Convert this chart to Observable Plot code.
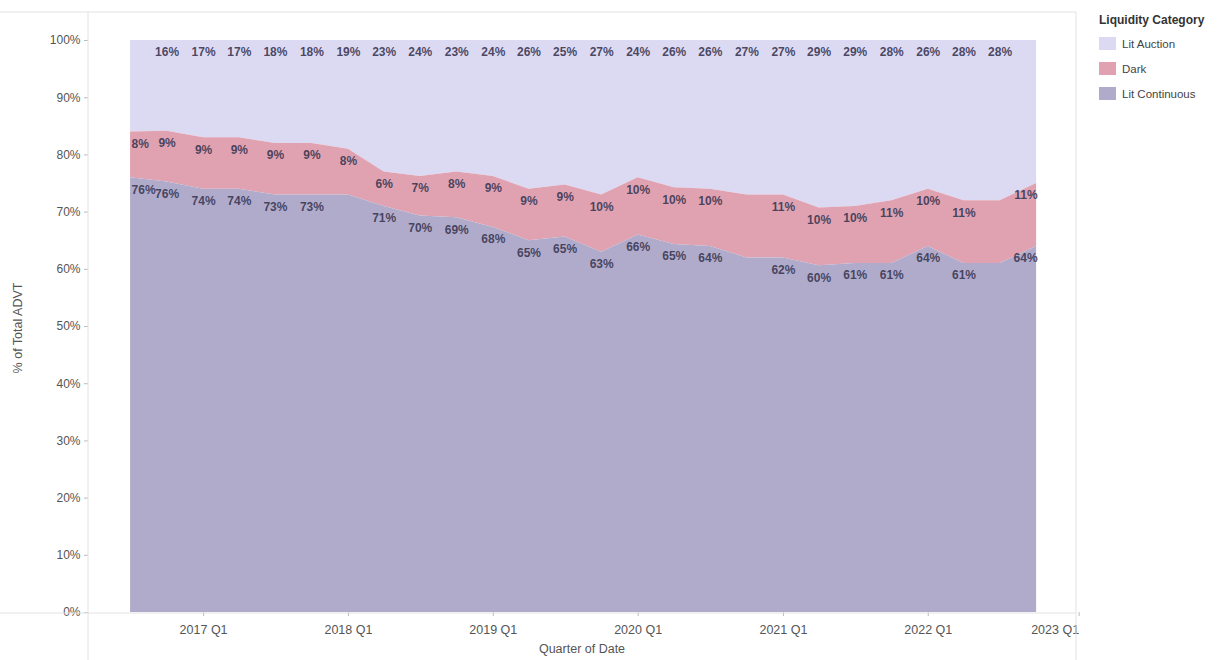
<!DOCTYPE html>
<html><head><meta charset="utf-8">
<script src="https://cdn.jsdelivr.net/npm/d3@7"></script>
<script src="https://cdn.jsdelivr.net/npm/@observablehq/plot@0.6"></script>
<style>
body{margin:0;background:#fff;font-family:"Liberation Sans",Arial,sans-serif}
#wrap{position:relative;width:1231px;height:660px;overflow:hidden}
#chart{position:absolute;left:0;top:0}
#legend{position:absolute;left:1099px;top:13px;font-size:11.5px;color:#444}
#legend .t{font-weight:bold;color:#333;margin-bottom:4px;font-size:12px}
#legend .it{display:flex;align-items:center;height:25px}
#legend .sw{width:17px;height:13px;margin-right:6px}
</style></head><body>
<div id="wrap"><div id="chart"></div><div id="legend"></div></div>
<script>
// Quarter start dates
const quarters = ["2016-07-01","2016-10-01","2017-01-01","2017-04-01","2017-07-01","2017-10-01",
  "2018-01-01","2018-04-01","2018-07-01","2018-10-01","2019-01-01","2019-04-01","2019-07-01","2019-10-01",
  "2020-01-01","2020-04-01","2020-07-01","2020-10-01","2021-01-01","2021-04-01","2021-07-01","2021-10-01",
  "2022-01-01","2022-04-01","2022-07-01","2022-10-01"];
const categories = ["Lit Auction","Dark","Lit Continuous"];
const litAuction    = [16,16,17,17,18,18,19,23,24,23,24,26,25,27,24,26,26,27,27,29,29,28,26,28,28,25];
const dark          = [8,9,9,9,9,9,8,6,7,8,9,9,9,10,10,10,10,11,11,10,10,11,10,11,11,11];
const litContinuous = [76,76,74,74,73,73,73,71,70,69,68,65,65,63,66,65,64,62,62,60,61,61,64,61,61,64];
// quarters whose label is not shown in the original
const hiddenLabels = {
  "Lit Auction": ["2016-07-01","2022-10-01"],
  "Dark": ["2020-10-01","2022-07-01"],
  "Lit Continuous": ["2018-01-01","2020-10-01","2022-07-01"]
};
const yTicks = [0,0.1,0.2,0.3,0.4,0.5,0.6,0.7,0.8,0.9,1.0];
const xTickYears = [2017,2018,2019,2020,2021,2022];
const xTickLast = [2023];
const colors = ["#dcd9f3","#e0a2b1","#b1abcb"];

const series = {"Lit Auction": litAuction, "Dark": dark, "Lit Continuous": litContinuous};
const data = quarters.flatMap((q, i) => categories.map(c => ({
  date: new Date(q + "T00:00:00Z"), q, cat: c, value: series[c][i]
})));
const order = ["Lit Continuous","Dark","Lit Auction"];
const first = quarters[0], last = quarters[quarters.length - 1];
const lab = (pos) => d => {
  if (hiddenLabels[d.cat].includes(d.q)) return null;
  const p = d.q === first ? "first" : d.q === last ? "last" : "mid";
  return p === pos ? d.value + "%" : null;
};
const stackOpts = {x: "date", y: "value", z: "cat", order, offset: "normalize"};
const textCommon = {fontSize: 12, fill: "#3c3a55", dy: 12, fontWeight: "bold", fillOpacity: 0.92};

const chart = Plot.plot({
  width: 1080, height: 660,
  marginLeft: 88, marginRight: 5, marginTop: 12, marginBottom: 48,
  style: {fontFamily: "'Liberation Sans', Arial, sans-serif", fontSize: "12px", color: "#555"},
  x: {type: "utc", domain: [new Date("2016-03-17T00:00:00Z"), new Date("2023-01-07T00:00:00Z")],
      label: null},
  y: {domain: [0, 1.049], label: null},
  color: {domain: categories, range: colors},
  marks: [
    Plot.areaY(data, Plot.stackY({...stackOpts, fill: "cat", curve: "linear"})),
    Plot.text(data, Plot.stackY2({...stackOpts, ...textCommon, text: lab("mid"), textAnchor: "middle"})),
    Plot.text(data, Plot.stackY2({...stackOpts, ...textCommon, text: lab("first"), textAnchor: "start", dx: 1})),
    Plot.text(data, Plot.stackY2({...stackOpts, ...textCommon, text: lab("last"), textAnchor: "end", dx: 1})),
    Plot.axisY(yTicks, {tickFormat: d3.format(".0%"), tickSize: 4, tickPadding: 4, stroke: "#bbb",
      fill: "#555", fontSize: 12, label: null}),
    Plot.axisX(xTickYears.map(y => new Date(Date.UTC(y, 0, 1))), {tickFormat: d => d.getUTCFullYear() + " Q1",
      tickSize: 4, tickPadding: 9, stroke: "#bbb", fill: "#555", fontSize: 12.5,
      label: "Quarter of Date", labelAnchor: "center", labelOffset: 40, labelArrow: "none"}),
    Plot.axisX(xTickLast.map(y => new Date(Date.UTC(y, 0, 1))), {tickFormat: d => d.getUTCFullYear() + " Q1",
      tickSize: 4, tickPadding: 9, stroke: "#bbb", fill: "#555", fontSize: 12.5, textAnchor: "end", dx: 6, label: null})
  ]
});
document.getElementById("chart").appendChild(chart);

const svg = d3.select(chart);
// Pane border lines (Tableau-style dividers)
const lines = [[0,12,1076,12],[0,613,1076,613],[88,12,88,660],[1076,12,1076,660]];
svg.append("g").selectAll("line").data(lines).join("line")
  .attr("x1", d => d[0]).attr("y1", d => d[1]).attr("x2", d => d[2]).attr("y2", d => d[3])
  .attr("stroke", "#e2e2e2").attr("stroke-width", 1);
// y axis title
svg.append("text").attr("transform", "translate(22,328) rotate(-90)")
  .attr("text-anchor", "middle").attr("fill", "#555").attr("font-size", 12.5)
  .text("% of Total ADVT");

// Legend
const lg = d3.select("#legend");
lg.append("div").attr("class", "t").text("Liquidity Category");
categories.forEach((c, i) => {
  const it = lg.append("div").attr("class", "it");
  it.append("div").attr("class", "sw").style("background", colors[i]);
  it.append("span").text(c);
});
</script>
</body></html>
